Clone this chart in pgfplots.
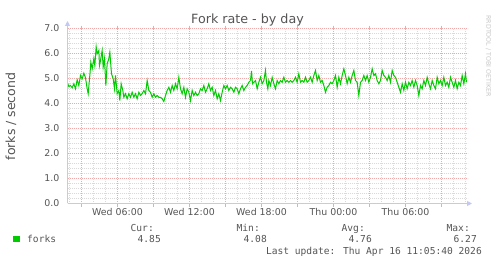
\documentclass[border=0pt]{standalone}
\usepackage{pgfplots}
\pgfplotsset{compat=1.18}
\usepackage{pgfplotstable}
\usepackage{fontspec}
\setmainfont{DejaVu Sans}
\newfontfamily\monofont{DejaVu Sans Mono}
\usetikzlibrary{arrows.meta}
\definecolor{txt}{RGB}{85,85,85}
\definecolor{lav}{RGB}{196,200,244}
\definecolor{mgrid}{RGB}{240,168,168}
\definecolor{mingrid}{RGB}{218,218,218}
\definecolor{fgreen}{RGB}{0,204,0}
\definecolor{wm}{RGB}{200,200,200}

% first part: x in pixel units of the day graph (x/36 - 3.75 = hours since Wed 00:00)
\pgfplotstableread{
zx v
200 4.85
205 4.68
210 4.72
215 4.63
220 4.79
225 4.59
230 4.95
235 4.72
240 5.12
245 4.99
250 5.21
255 5.03
260 4.59
263 4.39
268 5.12
271 5.65
275 5.39
280 5.79
283 5.52
287 6.27
290 5.99
295 6.12
297 5.52
300 5.72
305 6.12
308 5.45
312 5.79
316 4.72
320 5.59
325 5.79
328 6.05
333 5.19
338 4.99
342 4.59
345 5.12
350 4.39
355 4.52
358 4.12
362 4.79
367 4.52
370 4.25
375 4.39
380 4.19
385 4.39
390 4.25
395 4.45
400 4.25
405 4.39
410 4.19
415 4.45
420 4.32
425 4.39
430 4.52
435 4.39
440 4.92
445 4.52
450 4.45
455 4.25
460 4.39
465 4.25
470 4.32
475 4.25
480 4.25
485 4.19
490 4.08
495 4.32
500 4.52
505 4.65
510 4.45
515 4.72
520 4.52
525 4.79
530 4.59
535 5.05
540 4.59
545 4.39
550 4.65
555 4.25
560 4.59
565 4.45
570 4.12
575 4.52
580 4.32
585 4.45
590 4.32
595 4.39
600 4.59
605 4.52
610 4.72
615 4.45
620 4.59
625 4.79
630 4.52
635 4.65
640 4.32
645 4.52
650 4.19
655 4.39
660 4.12
665 4.45
670 4.72
675 4.59
680 4.72
685 4.52
690 4.65
695 4.59
700 4.45
705 4.65
710 4.59
715 4.39
720 4.59
725 4.72
730 4.52
735 4.65
740 4.72
745 4.85
750 4.92
}\tableA

% second part (x/36 + 17.0833 = hours since Wed 00:00)
\pgfplotstableread{
zx v
0 4.92
3 5.30
6 4.79
10 4.85
15 4.92
20 4.59
25 4.85
30 5.05
35 4.79
40 4.92
45 5.32
48 4.85
52 4.59
55 4.92
60 4.72
65 5.05
70 4.79
75 4.59
80 4.92
85 4.79
90 4.92
95 4.85
100 5.05
105 4.85
110 4.92
115 4.85
120 4.92
125 4.85
130 4.92
135 5.05
140 4.85
145 5.19
150 4.85
155 4.92
160 4.85
165 5.05
170 4.85
175 4.92
180 5.05
185 4.85
190 5.12
195 5.32
200 4.92
205 5.12
210 4.85
215 4.92
220 4.72
225 4.45
230 4.65
235 4.72
240 4.85
245 4.79
250 4.92
255 5.12
260 4.65
265 5.05
270 4.79
275 5.12
280 5.39
285 5.12
290 4.79
295 5.05
300 4.85
305 5.12
310 5.32
315 4.92
320 4.85
325 4.32
330 4.85
335 4.92
340 5.12
345 4.92
350 5.12
355 4.85
360 5.05
365 5.39
370 5.12
375 5.19
380 4.92
385 4.79
390 4.92
395 5.32
400 5.12
405 5.05
410 4.92
415 5.12
420 4.85
425 5.32
430 5.12
435 5.05
440 4.85
445 4.65
450 4.45
455 4.79
460 4.52
465 4.85
470 4.59
475 4.85
480 4.72
485 4.92
490 4.65
495 4.92
500 4.72
505 4.32
510 4.72
515 4.59
520 4.92
525 4.72
530 5.05
535 4.79
540 4.59
545 4.92
550 4.72
555 4.59
560 5.05
565 4.79
570 4.92
575 4.72
580 5.05
585 4.72
590 4.85
595 4.65
600 5.05
605 4.85
610 4.65
615 4.92
620 4.59
625 4.85
630 4.72
635 5.12
640 4.79
645 5.19
648 4.85
}\tableB

\begin{document}
\begin{tikzpicture}
\path[use as bounding box, fill=white] (0,0) rectangle (497bp,264bp);
\begin{axis}[
  scale only axis, width=400bp, height=175bp,
  at={(67.5bp,60.5bp)}, anchor=south west,
  xmin=1.8333, xmax=35.1667, ymin=0, ymax=7,
  xtick={3,6,...,33},
  xticklabels={,Wed 06:00,,Wed 12:00,,Wed 18:00,,Thu 00:00,,Thu 06:00,},
  minor xtick={2,...,35},
  ytick={0,1,...,7}, minor y tick num=4,
  grid=both,
  major grid style={color=mgrid, line width=1bp, dash pattern=on 1bp off 1bp},
  minor grid style={color=mingrid, line width=1bp, dash pattern=on 1bp off 1bp},
  axis line style={draw=none},
  tick align=outside, major tick length=3bp, minor tick length=0pt,
  xtick style={color=mgrid, line width=1bp},
  ytick style={draw=none},
  /pgf/number format/assume math mode=true,
  tick label style={font=\fontsize{9.4bp}{11bp}\selectfont, text=txt},
  yticklabel style={/pgf/number format/fixed, /pgf/number format/fixed zerofill, /pgf/number format/precision=1, anchor=east, inner sep=0pt, xshift=-5bp},
  xticklabel style={anchor=north, inner sep=0pt, yshift=-2bp},
  clip=true,
]
\addplot[fgreen, line width=1bp, no marks] table[x expr=\thisrow{zx}/36-3.75, y=v] {\tableA};
\addplot[fgreen, line width=1bp, no marks] table[x expr=\thisrow{zx}/36+17.08333, y=v] {\tableB};
\end{axis}
% axis lines with arrows
\draw[lav, line width=1bp, -{Triangle[width=5bp,length=5bp]}] (67.5bp,60.5bp) -- (67.5bp,243bp);
\draw[lav, line width=1bp, -{Triangle[width=5bp,length=5bp]}] (67.5bp,60.5bp) -- (472bp,60.5bp);
% title
\node[anchor=base, inner sep=0pt, text=txt, font=\fontsize{12.7bp}{14bp}\selectfont] at (247.5bp,240bp) {Fork rate - by day};
% y label
\node[anchor=base, rotate=90, inner sep=0pt, text=txt, font=\fontsize{12.5bp}{14bp}\selectfont] at (15bp,147.5bp) {forks / second};
% watermark
\node[rotate=-90, inner sep=0pt, text=wm, font=\fontsize{6.3bp}{7bp}\selectfont] at (488.5bp,208bp) {RRDTOOL / TOBI OETIKER};
% legend
\fill[fgreen] (13bp,21.5bp) rectangle (20bp,28bp);
\begin{scope}[every node/.style={inner sep=0pt, text=txt, font=\monofont\fontsize{9.6bp}{11bp}\selectfont}]
\node[anchor=base west] at (27bp,22bp) {forks};
\node[anchor=base east] at (154bp,33bp) {Cur:};
\node[anchor=base east] at (161bp,22bp) {4.85};
\node[anchor=base east] at (260bp,33bp) {Min:};
\node[anchor=base east] at (267bp,22bp) {4.08};
\node[anchor=base east] at (365bp,33bp) {Avg:};
\node[anchor=base east] at (372bp,22bp) {4.76};
\node[anchor=base east] at (470bp,33bp) {Max:};
\node[anchor=base east] at (477bp,22bp) {6.27};
\node[anchor=base east] at (482bp,10bp) {Last update: Thu Apr 16 11:05:40 2026};
\end{scope}
\end{tikzpicture}
\end{document}
